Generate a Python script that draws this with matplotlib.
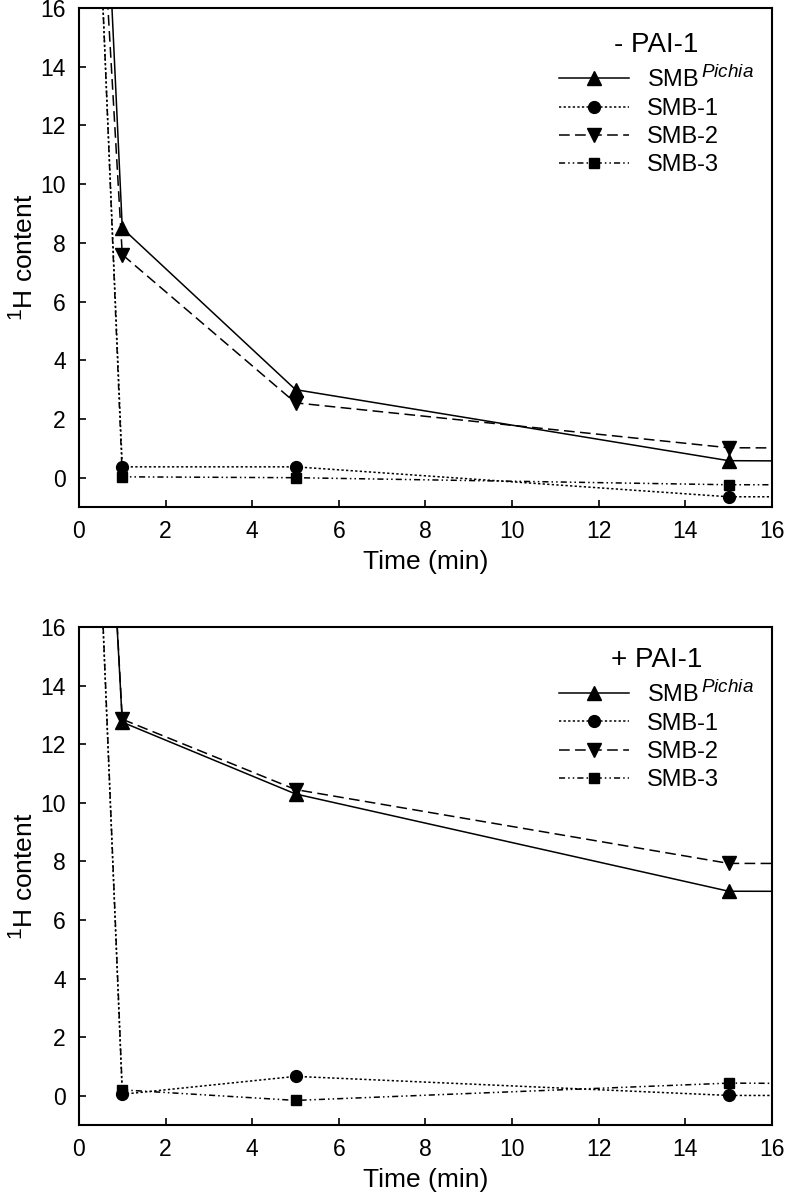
import matplotlib
matplotlib.use("Agg")
import matplotlib.pyplot as plt
import matplotlib._mathtext as mathtext_internals

# superscripts in the original are a bit larger than matplotlib's default
mathtext_internals.SHRINK_FACTOR = 0.8

plt.rcParams["font.family"] = ["Liberation Sans", "DejaVu Sans"]
plt.rcParams["mathtext.fontset"] = "custom"
plt.rcParams["mathtext.rm"] = "Liberation Sans"
plt.rcParams["mathtext.it"] = "Liberation Sans:italic"

# data (time in min, last point only carries the line to the edge)
time = [0, 1, 5, 15, 30]

labels = ["SMB$^{\\,\\mathit{Pichia}}$", "SMB-1", "SMB-2", "SMB-3"]

# - PAI-1
minus_pichia = [40, 8.5, 3.0, 0.58, 0.48]
minus_smb1 = [35.5, 0.37, 0.37, -0.65, -0.65]
minus_smb2 = [33, 7.6, 2.55, 1.02, 0.95]
minus_smb3 = [36, 0.03, 0.0, -0.24, -0.24]

# + PAI-1
plus_pichia = [40, 12.75, 10.3, 6.98, 6.94]
plus_smb1 = [36, 0.05, 0.66, 0.01, -0.01]
plus_smb2 = [40, 12.85, 10.45, 7.93, 7.9]
plus_smb3 = [36, 0.2, -0.16, 0.43, 0.33]

styles = [
    dict(ls="-", marker="^", ms=10),
    dict(ls=(0, (1.5, 1.5)), marker="o", ms=8.5),
    dict(ls=(0, (7, 3.5)), marker="v", ms=10),
    dict(ls=(0, (4, 2, 1, 2, 1, 2)), marker="s", ms=7),
]


def draw_panel(ax, series, title, anchor_y):
    for y, lab, st in zip(series, labels, styles):
        ax.plot(time, y, color="black", lw=1.1, label=lab, **st)
    ax.set_xlim(0, 16)
    ax.set_ylim(-1, 16)
    ax.set_xticks(range(0, 17, 2))
    ax.set_yticks(range(0, 17, 2))
    ax.tick_params(direction="in", length=5, width=1.2, labelsize=16.5, pad=9.5,
                   top=False, right=False)
    for s in ax.spines.values():
        s.set_linewidth(1.5)
    ax.set_xlabel("Time (min)", fontsize=19, labelpad=5)
    ax.set_ylabel("$^{1}$H content", fontsize=19, labelpad=1.5)
    leg = ax.legend(loc="upper right", bbox_to_anchor=(0.998, anchor_y),
                    frameon=False, fontsize=17, title=title,
                    title_fontsize=20, handlelength=3.0, handletextpad=0.75,
                    labelspacing=0.26, borderpad=0.2)
    return leg


fig = plt.figure(figsize=(7.85, 11.99), dpi=100)
ax1 = fig.add_axes([0.1006, 0.5771, 0.8828, 0.4162])
ax2 = fig.add_axes([0.1006, 0.0617, 0.8828, 0.4154])

draw_panel(ax1, [minus_pichia, minus_smb1, minus_smb2, minus_smb3], "- PAI-1", 0.985)
draw_panel(ax2, [plus_pichia, plus_smb1, plus_smb2, plus_smb3], "+ PAI-1", 0.993)

fig.savefig("out.png", dpi=100)
